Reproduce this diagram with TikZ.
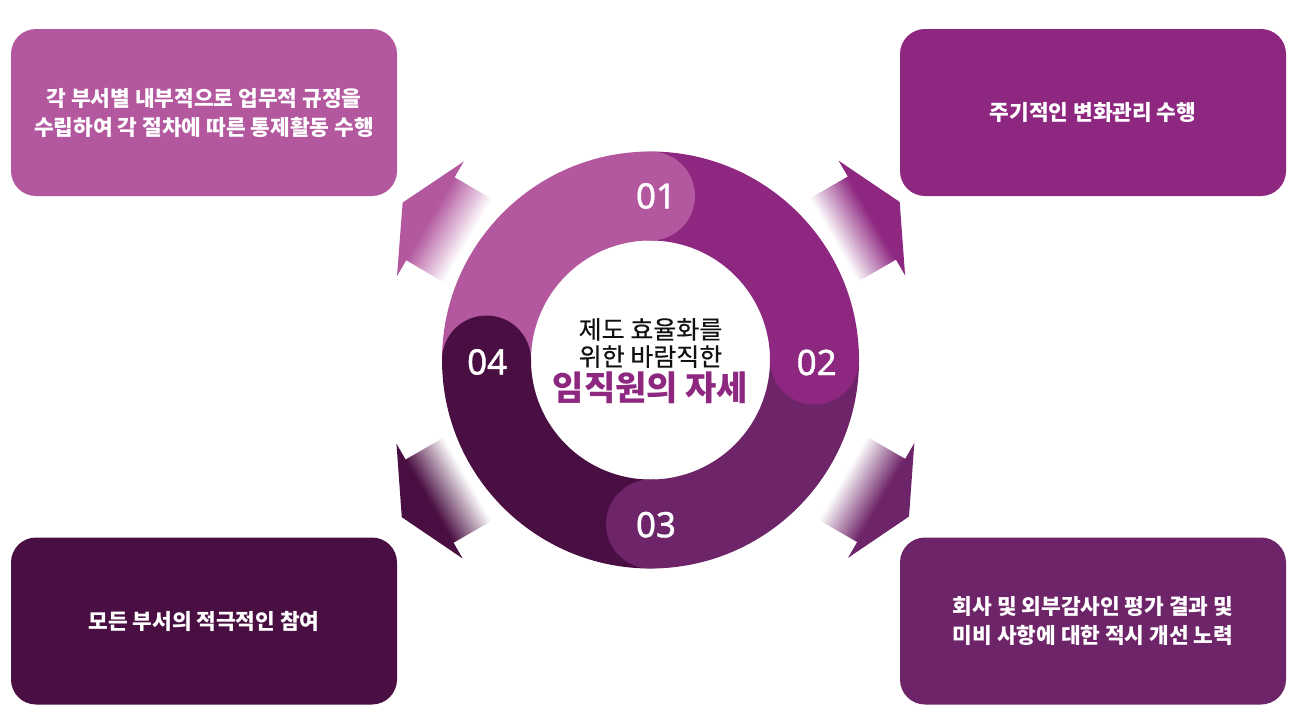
\documentclass[tikz,border=0pt]{standalone}
\usepackage{fontspec}
\newfontfamily\kr{Noto Sans CJK KR}
\newfontfamily\krm[FakeBold=0.4]{Noto Sans CJK KR}
\newfontfamily\numf[FakeBold=1.2]{Noto Sans}
\definecolor{cA}{HTML}{B3589F}
\definecolor{cB}{HTML}{8E2780}
\definecolor{cC}{HTML}{6E2468}
\definecolor{cD}{HTML}{4A0F42}
\definecolor{ctext}{HTML}{111111}
\newcommand\AP[2]{({\amx+(#1)*(\aux)-(#2)*(\auy)},{\amy+(#1)*(\auy)+(#2)*(\aux)})}
\newcommand\fadearrow[5]{%
  \def\amx{#1}\def\amy{#2}\def\aux{#3}\def\auy{#4}%
  \begin{scope}
    \clip \AP{32}{0} -- \AP{0}{66} -- \AP{0}{48} -- \AP{-46}{48} -- \AP{-46}{-48} -- \AP{0}{-48} -- \AP{0}{-66} -- cycle;
    \foreach \i in {0,...,21}{%
      \pgfmathsetmacro\ua{-44+2*\i}%
      \pgfmathsetmacro\ub{\ua+2.5}%
      \pgfmathtruncatemacro\pc{round((\i+0.5)/22*100)}%
      \fill[#5!\pc!white] \AP{\ua}{-70} -- \AP{\ub}{-70} -- \AP{\ub}{70} -- \AP{\ua}{70} -- cycle;
    }
    \fill[#5] \AP{0}{-70} -- \AP{40}{-70} -- \AP{40}{70} -- \AP{0}{70} -- cycle;
  \end{scope}}
\begin{document}
\begin{tikzpicture}[x=1pt,y=-1pt,
  box/.style={rounded corners=25pt, minimum width=386pt, minimum height=167pt,
    inner sep=0pt, align=center, text=white,
    font=\kr\bfseries\fontsize{21.4}{29}\selectfont},
  num/.style={text=white, inner sep=0pt, font=\numf\fontsize{35}{35}\selectfont}]
\useasboundingbox (0,0) rectangle (1300,720);
\fill[white] (0,0) rectangle (1300,720);

% boxes
\node[box, fill=cA] (b1) at (204,112.5) {각 부서별 내부적으로 업무적 규정을\\수립하여 각 절차에 따른 통제활동 수행};
\node[box, fill=cB] (b2) at (1093,112.5) {주기적인 변화관리 수행};
\node[box, fill=cC] (b3) at (1093,621) {회사 및 외부감사인 평가 결과 및\\미비 사항에 대한 적시 개선 노력};
\node[box, fill=cD] (b4) at (204,621) {모든 부서의 적극적인 참여};

% arrows
\fadearrow{430.3}{218.7}{-0.864}{-0.504}{cA}
\fadearrow{872}{218}{0.865}{-0.501}{cB}
\fadearrow{881.3}{500.5}{0.866}{0.5}{cC}
\fadearrow{429.5}{501.2}{-0.866}{0.5}{cD}

% ring segments
\fill[cA] (442,360) arc[start angle=180,end angle=270,radius=208.5] -- (650.5,240.5) arc[start angle=270,end angle=180,radius=119.5] -- cycle;
\fill[cB] (650.5,151.5) arc[start angle=270,end angle=360,radius=208.5] -- (770,360) arc[start angle=0,end angle=-90,radius=119.5] -- cycle;
\fill[cC] (859,360) arc[start angle=0,end angle=90,radius=208.5] -- (650.5,479.5) arc[start angle=90,end angle=0,radius=119.5] -- cycle;
\fill[cD] (650.5,568.5) arc[start angle=90,end angle=180,radius=208.5] -- (531,360) arc[start angle=180,end angle=90,radius=119.5] -- cycle;
% rounded caps
\fill[cA] (650.5,196) circle[radius=44.5];
\fill[cB] (814.5,360) circle[radius=44.5];
\fill[cC] (650.5,524) circle[radius=44.5];
\fill[cD] (486.5,360) circle[radius=44.5];

% numbers
\node[num] (n1) at (656,196) {01};
\node[num] (n2) at (816.7,362.5) {02};
\node[num] (n3) at (656,524.7) {03};
\node[num] (n4) at (487.2,362) {04};

% centre text
\node[text=ctext, align=center, inner sep=0pt, font=\krm\fontsize{25}{27.2}\selectfont] (t1) at (650.5,343) {제도 효율화를\\위한 바람직한};
\node[text=cB, inner sep=0pt, font=\kr\bfseries\fontsize{34}{34}\selectfont] (t2) at (650.5,388) {임직원의 자세};
\end{tikzpicture}
\end{document}
